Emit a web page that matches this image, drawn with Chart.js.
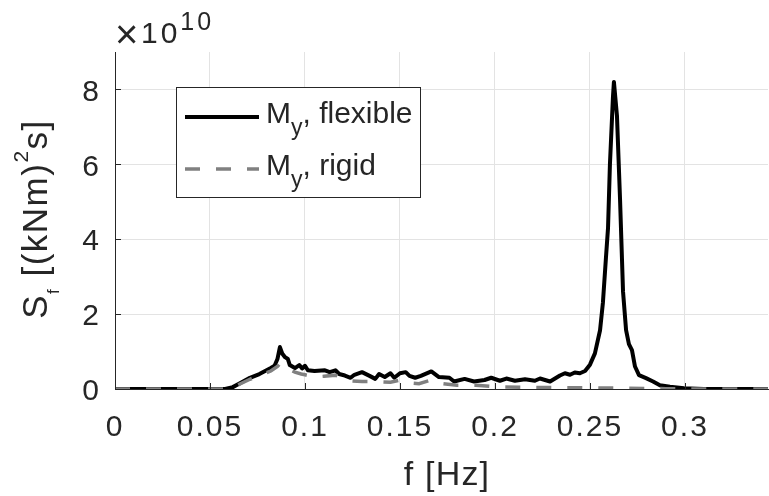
<!DOCTYPE html>
<html>
<head>
<meta charset="utf-8">
<script src="https://cdn.jsdelivr.net/npm/chart.js@4/dist/chart.umd.min.js"></script>
<style>
  html, body { margin: 0; padding: 0; background: #fff; }
</style>
</head>
<body>
<canvas id="chartSpectre" width="769" height="496"></canvas>
<script>
// Spectres : f en Hz, S_f en unites de 1e10 (kNm)^2 s
const freqFlex = [0, 0.05, 0.058, 0.062, 0.066, 0.071, 0.076, 0.079, 0.082, 0.084, 0.0855, 0.0868, 0.088, 0.0895, 0.091, 0.092,
  0.0947, 0.097, 0.0985, 0.1, 0.1015, 0.105, 0.1105, 0.113, 0.116, 0.118, 0.121, 0.124, 0.126, 0.13, 0.134, 0.137, 0.139,
  0.142, 0.145, 0.147, 0.15, 0.153, 0.155, 0.158, 0.161, 0.1665, 0.1705, 0.176, 0.1785, 0.184, 0.189, 0.1945, 0.198,
  0.2026, 0.206, 0.2105, 0.2158, 0.221, 0.2237, 0.229, 0.2342, 0.2368, 0.2395, 0.242, 0.2447, 0.2474, 0.25, 0.2526,
  0.2553, 0.2568, 0.2584, 0.2595, 0.2605, 0.2621, 0.2626, 0.2642, 0.2658, 0.2674, 0.269, 0.2705, 0.2721, 0.2737,
  0.2758, 0.2795, 0.2832, 0.2868, 0.2921, 0.2995, 0.31, 0.3437];
const valFlex = [0, 0, 0, 0.05, 0.16, 0.3, 0.4, 0.48, 0.56, 0.62, 0.8, 1.12, 0.95, 0.85, 0.8, 0.64,
  0.56, 0.64, 0.55, 0.62, 0.5, 0.48, 0.5, 0.45, 0.5, 0.4, 0.36, 0.3, 0.38, 0.45, 0.35, 0.27, 0.4,
  0.32, 0.42, 0.3, 0.42, 0.45, 0.35, 0.3, 0.35, 0.47, 0.32, 0.3, 0.2, 0.27, 0.2, 0.24, 0.3,
  0.22, 0.28, 0.22, 0.26, 0.22, 0.28, 0.2, 0.36, 0.42, 0.38, 0.44, 0.42, 0.48, 0.65, 0.95,
  1.57, 2.3, 3.5, 4.3, 6.0, 7.8, 8.2, 7.3, 5.1, 2.6, 1.57, 1.2, 1.04, 0.6,
  0.37, 0.29, 0.2, 0.1, 0.06, 0.02, 0, 0];

const freqRigid = [0, 0.058, 0.062, 0.066, 0.071, 0.076, 0.082, 0.0855, 0.0868, 0.0895, 0.092, 0.0947, 0.098, 0.1,
  0.105, 0.11, 0.116, 0.12, 0.124, 0.13, 0.137, 0.145, 0.15, 0.155, 0.16, 0.1665, 0.17, 0.18, 0.19, 0.2, 0.22,
  0.25, 0.27, 0.29, 0.31, 0.3437];
const valRigid = [0, 0, 0.04, 0.14, 0.26, 0.36, 0.48, 0.6, 0.68, 0.62, 0.52, 0.45, 0.4, 0.38,
  0.32, 0.34, 0.37, 0.28, 0.22, 0.2, 0.2, 0.18, 0.24, 0.16, 0.14, 0.24, 0.16, 0.1, 0.1, 0.06, 0.04,
  0.03, 0.02, 0.01, 0, 0];

const xTicks = [0, 0.05, 0.1, 0.15, 0.2, 0.25, 0.3];
const yTicks = [0, 2, 4, 6, 8];
const seriesNames = ['flexible', 'rigid'];

const police = "'Liberation Sans', Arial, Helvetica, sans-serif";
const couleurAxe = '#262626';
const couleurRigide = '#808080';
const tirets = [15, 16];

// texte avec indices / exposants, dessine morceau par morceau
function largeur(ctx, morceaux) {
  let w = 0;
  morceaux.forEach(m => { ctx.font = m.size + 'px ' + police; w += ctx.measureText(m.t).width; });
  return w;
}
function ecrire(ctx, morceaux, x, y) {
  morceaux.forEach(m => {
    ctx.font = m.size + 'px ' + police;
    ctx.fillText(m.t, x, y + (m.dy || 0));
    x += ctx.measureText(m.t).width;
  });
  return x;
}

const habillage = {
  id: 'habillage',
  beforeDraw(chart) {
    chart.ctx.letterSpacing = '2px';
  },
  afterDraw(chart) {
    const ctx = chart.ctx;
    const a = chart.chartArea;
    const sx = chart.scales.x, sy = chart.scales.y;
    ctx.save();

    // petites graduations vers l'interieur
    ctx.strokeStyle = couleurAxe;
    ctx.lineWidth = 1;
    ctx.beginPath();
    xTicks.forEach(v => {
      const px = Math.round(sx.getPixelForValue(v)) + 0.5;
      ctx.moveTo(px, a.bottom); ctx.lineTo(px, a.bottom - 6);
    });
    yTicks.forEach(v => {
      const py = Math.round(sy.getPixelForValue(v)) + 0.5;
      ctx.moveTo(a.left, py); ctx.lineTo(a.left + 6, py);
    });
    ctx.stroke();

    ctx.fillStyle = couleurAxe;
    ctx.textAlign = 'left';
    ctx.textBaseline = 'alphabetic';

    // multiplicateur x10^10
    ctx.letterSpacing = '0px';
    ctx.font = '40px ' + police;
    ctx.fillText('\u00d7', 115, 48);
    ctx.letterSpacing = '3px';
    ecrire(ctx, [{ t: '10', size: 30 }, { t: '10', size: 25, dy: -13 }], 141, 43);

    // titre axe x
    ctx.letterSpacing = '1.2px';
    ctx.textAlign = 'center';
    ctx.font = '34px ' + police;
    ctx.fillText('f [Hz]', 447, 485);
    ctx.textAlign = 'left';

    // titre axe y (tourne)
    const titreY = [
      { t: 'S', size: 35 }, { t: 'f', size: 17, dy: 12 }, { t: ' [(kNm)', size: 35 },
      { t: '2', size: 21, dy: -19 }, { t: 's]', size: 35 }
    ];
    ctx.letterSpacing = '1.5px';
    const wy = largeur(ctx, titreY);
    ctx.save();
    ctx.translate(47, 219);
    ctx.rotate(-Math.PI / 2);
    ecrire(ctx, titreY, -wy / 2, 0);
    ctx.restore();

    // legende
    const bx = 176, by = 87, bw = 244, bh = 110;
    ctx.fillStyle = '#ffffff';
    ctx.fillRect(bx, by, bw, bh);
    ctx.strokeStyle = couleurAxe;
    ctx.lineWidth = 1;
    ctx.strokeRect(bx + 0.5, by + 0.5, bw, bh);

    const lignes = [
      { y: 117, base: 123, color: '#000000', width: 4, dash: [] },
      { y: 169, base: 175, color: couleurRigide, width: 3.5, dash: tirets }
    ];
    ctx.letterSpacing = '0px';
    lignes.forEach((l, i) => {
      ctx.beginPath();
      ctx.setLineDash(l.dash);
      ctx.strokeStyle = l.color;
      ctx.lineWidth = l.width;
      ctx.moveTo(185, l.y); ctx.lineTo(259, l.y);
      ctx.stroke();
      ctx.setLineDash([]);
      ctx.fillStyle = couleurAxe;
      ecrire(ctx, [
        { t: 'M', size: 30 }, { t: 'y', size: 23, dy: 12 }, { t: ', ' + seriesNames[i], size: 30 }
      ], 266, l.base);
    });

    ctx.restore();
  }
};

const ctxSpectre = document.getElementById('chartSpectre');
new Chart(ctxSpectre, {
  type: 'line',
  data: {
    datasets: [
      {
        label: 'M_y, ' + seriesNames[0],
        data: freqFlex.map((f, i) => ({ x: f, y: valFlex[i] })),
        borderColor: '#000000',
        borderWidth: 4,
        pointRadius: 0,
        tension: 0,
        borderJoinStyle: 'round',
        borderCapStyle: 'round',
        fill: false,
        order: 1
      },
      {
        label: 'M_y, ' + seriesNames[1],
        data: freqRigid.map((f, i) => ({ x: f, y: valRigid[i] })),
        borderColor: couleurRigide,
        borderWidth: 3.5,
        borderDash: tirets,
        pointRadius: 0,
        tension: 0,
        fill: false,
        order: 0
      }
    ]
  },
  options: {
    responsive: false,
    animation: false,
    events: [],
    layout: { padding: { left: 0, right: 1, top: 52, bottom: 0 } },
    plugins: { legend: { display: false }, tooltip: { enabled: false } },
    scales: {
      x: {
        type: 'linear',
        min: 0,
        max: 0.3437,
        afterBuildTicks: s => { s.ticks = xTicks.map(v => ({ value: v })); },
        afterFit: s => { s.height = 107; },
        grid: { color: '#e3e3e3', drawTicks: false },
        border: { color: couleurAxe, width: 1 },
        ticks: {
          padding: 21,
          maxRotation: 0,
          color: couleurAxe,
          font: { family: police, size: 30 },
          callback: v => String(+v.toFixed(2))
        }
      },
      y: {
        min: 0,
        max: 9,
        afterBuildTicks: s => { s.ticks = yTicks.map(v => ({ value: v })); },
        afterFit: s => { s.width = 115; },
        grid: { color: '#e3e3e3', drawTicks: false },
        border: { color: couleurAxe, width: 1 },
        ticks: {
          padding: 14,
          labelOffset: 3,
          color: couleurAxe,
          font: { family: police, size: 30 },
          callback: v => String(v)
        }
      }
    }
  },
  plugins: [habillage]
});
</script>
</body>
</html>
